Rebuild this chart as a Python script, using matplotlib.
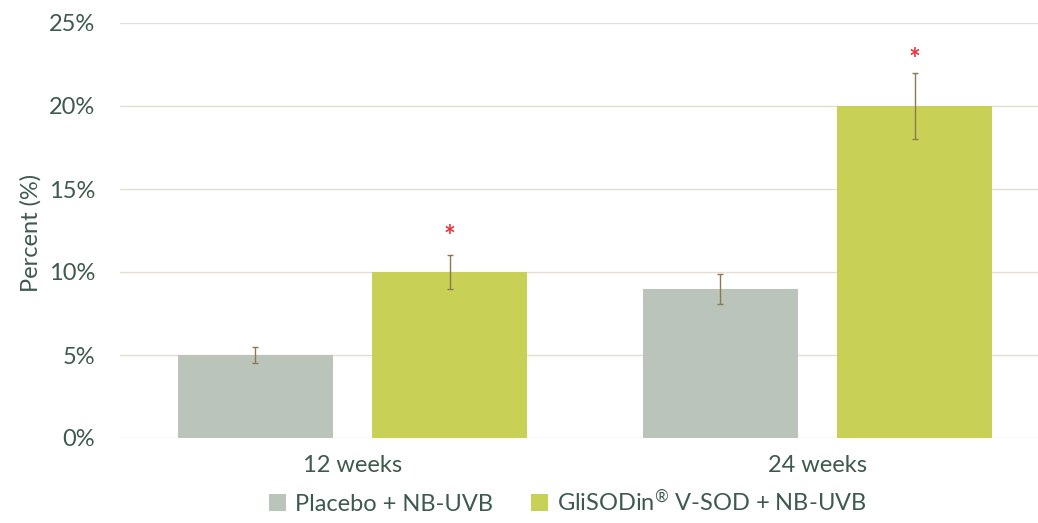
import matplotlib
matplotlib.use("Agg")
import matplotlib.pyplot as plt
import numpy as np

# data
groups = ['12 weeks', '24 weeks']
placebo = [5.0, 9.0]
placebo_err = [0.5, 0.9]
glisodin = [10.0, 20.0]
glisodin_err = [1.0, 2.0]
star_y = [12.1, 22.8]
labels = ['Placebo + NB-UVB', 'GliSODin$^{®}$ V-SOD + NB-UVB']

plt.rcParams['font.family'] = ['Lato', 'DejaVu Sans']
plt.rcParams['mathtext.fontset'] = 'custom'
plt.rcParams['mathtext.rm'] = 'Lato'
plt.rcParams['mathtext.it'] = 'Lato'

txt = '#3d5a4c'
c_plac = '#bac4ba'
c_gli = '#c8d155'
c_err = '#8b7a50'
fs = 17

fig = plt.figure(figsize=(10.38, 5.23), dpi=100)
ax = fig.add_axes([120/1038, 1 - 438/523, 918/1038, 415/523])

x = np.arange(len(groups))
w = 0.333
off = 0.209
ax.bar(x - off, placebo, w, color=c_plac, label=labels[0], zorder=2)
ax.bar(x + off, glisodin, w, color=c_gli, label=labels[1], zorder=2)
ax.errorbar(x - off, placebo, yerr=placebo_err, fmt='none', ecolor=c_err,
            elinewidth=1, capsize=2, capthick=1, zorder=3)
ax.errorbar(x + off, glisodin, yerr=glisodin_err, fmt='none', ecolor=c_err,
            elinewidth=1, capsize=2, capthick=1, zorder=3)
for xi, yi in zip(x + off, star_y):
    ax.text(xi, yi, '*', color='#e8343a', ha='center', va='center',
            fontsize=20, fontweight='bold', zorder=4)

ax.set_xlim(-0.5, 1.474)
ax.set_ylim(0, 25)
ax.set_yticks(np.arange(0, 26, 5))
ax.set_yticklabels([f'{v}%' for v in range(0, 26, 5)])
ax.set_xticks(x)
ax.set_xticklabels(groups)
ax.yaxis.grid(True, color='#e4ddd0', linewidth=1.0, zorder=0)
ax.set_axisbelow(True)
for s in ax.spines.values():
    s.set_visible(False)
ax.tick_params(length=0, labelsize=fs, colors=txt)
ax.tick_params(axis='y', pad=18)
ax.tick_params(axis='x', pad=12)
ax.set_ylabel('Percent (%)', fontsize=fs, color=txt, va='center')
ax.yaxis.set_label_coords(-(120 - 31) / 918, 0.494)

leg = fig.legend(loc='lower center', bbox_to_anchor=(0.547, -0.025), ncol=2,
                 frameon=False, fontsize=fs, handlelength=0.7, handleheight=0.7,
                 columnspacing=1.6, handletextpad=0.4)
for t in leg.get_texts():
    t.set_color(txt)

fig.savefig('out.png', dpi=100)
